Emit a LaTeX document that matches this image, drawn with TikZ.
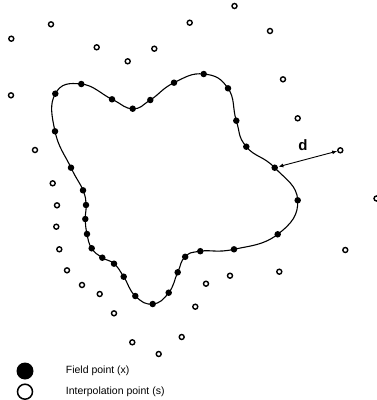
\documentclass[tikz,border=0pt]{standalone}
\usepackage{fontspec}
\setmainfont{Liberation Sans}
\usetikzlibrary{arrows.meta}
\tikzset{
  every picture/.style={x=1pt, y=-1pt, line width=1.1pt},
  field/.style={circle, fill=black, inner sep=0pt, minimum size=6.5pt},
  interp/.style={circle, draw=black, line width=1.4pt, inner sep=0pt, minimum size=5pt},
  boundary/.style={draw=black, line width=1.1pt},
  dist/.style={{Latex[length=5pt,width=4pt]}-{Latex[length=5pt,width=4pt]}, line width=0.9pt},
  legtext/.style={anchor=west, font=\fontsize{10.5}{12}\selectfont},
  dlabel/.style={font=\fontsize{15}{15}\selectfont\bfseries},
}

\begin{document}
\begin{tikzpicture}
  \useasboundingbox (0,0) rectangle (376,400);
  % field points on the boundary
  \foreach \p [count=\i] in {(55.3,93.7), (81.3,84), (112,99.3), (132.7,108.7), (150.3,100),
      (174,82.7), (203.7,74), (228,88.3), (236.3,120.7), (246.3,146.7),
      (274.7,167.7), (297.7,200.3), (277.7,234.3), (234,249.3), (200.3,251.2),
      (185.2,256.8), (177.7,272.3), (168.7,292.7), (152.7,304), (135.3,296),
      (123.7,276.7), (114,263.7), (102.3,257.7), (91.7,248.3), (87,234),
      (85.3,219), (86,205), (83,190.3), (71,167.7), (55,131.3)}
    \node[field] (x\i) at \p {};
  \draw[boundary] plot[smooth cycle, tension=0.8, samples at={1,...,30}, variable=\k] (x\k.center);
  % interpolation points
  \foreach \p [count=\i] in {(11.3,38.7), (51,24.3), (96.7,47.3), (127.7,61.3), (154.3,48.7),
      (189.7,22.7), (234.5,6), (270,31), (283,79.3), (297.7,118.3),
      (340.3,150.3), (376.5,198.5), (345.3,250), (279.3,271.7), (230,275.7),
      (206,283.7), (195.3,306.7), (181.7,337), (158.7,354), (132.3,342.3),
      (114,313.3), (99.7,294), (82,285), (67,270.3), (59.3,249.3),
      (56.3,226.7), (57,205.3), (52.7,183.3), (35,150), (11,95.3)}
    \node[interp] (s\i) at \p {};
  % distance
  \draw[dist] (x11) -- (s11);
  \node[dlabel] (d) at (303,145) {d};
  % legend
  \node[field, minimum size=17pt] (kfield) at (25,371) {};
  \node[interp, minimum size=15pt, line width=1.5pt] (kinterp) at (25,391.7) {};
  \node[legtext] (tfield) at (62,371) {Field point (x)};
  \node[legtext] (tinterp) at (62,391.7) {Interpolation point (s)};
\end{tikzpicture}
\end{document}
